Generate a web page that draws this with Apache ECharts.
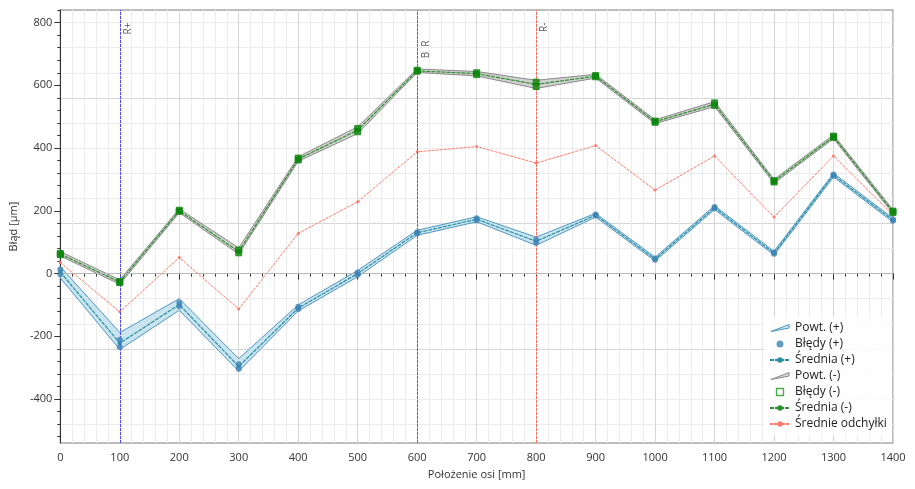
<!DOCTYPE html>
<html>
<head>
<meta charset="utf-8">
<script src="https://cdn.jsdelivr.net/npm/echarts@6/dist/echarts.min.js"></script>
<style>
  html, body { margin: 0; padding: 0; background: #fff; }
  #main { width: 915px; height: 489px; }
</style>
</head>
<body>
<div id="main"></div>
<script>
// pozycje pomiarowe [mm]
var xs = [0, 100, 200, 300, 400, 500, 600, 700, 800, 900, 1000, 1100, 1200, 1300, 1400];

// kierunek (+)
var plusRun1  = [13, -211, -93, -289, -106, 3, 132, 176, 108, 188, 48, 212, 67, 316, 172];
var plusRun2  = [-2, -234, -104, -303, -113, -4, 128, 170, 98, 185, 44, 208, 63, 312, 168];
var plusMean  = [5, -222, -99, -296, -110, 0, 130, 173, 103, 186, 46, 210, 65, 314, 170];
var plusUpper = [22, -188, -80, -271, -100, 10, 138, 181, 116, 192, 52, 216, 71, 320, 176];
var plusLower = [-14, -242, -117, -311, -119, -10, 122, 165, 90, 180, 40, 204, 59, 308, 164];

// kierunek (-)
var minusRun1  = [64, -25, 202, 75, 368, 462, 648, 640, 610, 631, 486, 544, 296, 438, 199];
var minusRun2  = [60, -29, 198, 66, 362, 452, 645, 634, 596, 627, 482, 536, 292, 434, 195];
var minusMean  = [62, -27, 200, 70, 365, 457, 646, 637, 603, 629, 484, 540, 294, 436, 197];
var minusUpper = [70, -20, 206, 82, 372, 468, 652, 644, 616, 635, 490, 548, 300, 442, 203];
var minusLower = [56, -34, 194, 62, 358, 446, 641, 630, 590, 623, 478, 532, 288, 430, 191];

// srednie odchylki
var avgDev = [35, -122, 51, -113, 128, 229, 388, 405, 352, 408, 266, 375, 180, 375, 186];

// znaczniki na osi
var markerX     = [100, 600, 800];
var markerText  = ['R+', 'B  R', 'R-'];
var markerColor = ['#4a4aff', '#2e8b6e', '#ff6b5e'];
var markerDrop  = [13, 31, 13];

var yLabels = [-400, -200, 0, 200, 400, 600, 800];
var yMinorTicks = [];
for (var v = -520; v <= 840; v += 40) yMinorTicks.push(v);

var Y_MIN = -540, Y_MAX = 840;

function pairs(ys) {
  return xs.map(function (x, i) { return [x, ys[i]]; });
}
function bandRows(up, lo) {
  return xs.map(function (x, i) { return [x, up[i], lo[i]]; });
}

// pasmo powtarzalnosci rysowane jako wielokat
function bandSeries(name, up, lo, fill, edge) {
  var rows = bandRows(up, lo);
  return {
    name: name, type: 'custom', z: 2, clip: true,
    encode: { x: 0, y: [1, 2] },
    data: rows,
    itemStyle: { color: fill, borderColor: edge, borderWidth: 1 },
    renderItem: function (params, api) {
      if (params.dataIndex !== 0) return;
      var top = [], bot = [];
      for (var i = 0; i < rows.length; i++) {
        top.push(api.coord([rows[i][0], rows[i][1]]));
        bot.push(api.coord([rows[i][0], rows[i][2]]));
      }
      var poly = top.concat(bot.slice().reverse());
      return {
        type: 'group',
        children: [
          { type: 'polygon', shape: { points: poly }, style: { fill: fill, stroke: null } },
          { type: 'polyline', shape: { points: top }, style: { stroke: edge, lineWidth: 1, fill: null } },
          { type: 'polyline', shape: { points: bot }, style: { stroke: edge, lineWidth: 1, fill: null } }
        ]
      };
    }
  };
}

var chart = echarts.init(document.getElementById('main'));

var minorC = '#ececec', majorC = '#d6d6d6', noneC = 'rgba(0,0,0,0)';
var font = '"Open Sans", "Noto Sans", sans-serif';
var wedge = 'path://M0,12L26,2L26,7L0,12Z';

var option = {
  backgroundColor: '#fff',
  animation: false,
  textStyle: { fontFamily: font },
  grid: {
    left: 54, right: 22, top: 10, bottom: 46,
    show: true, borderColor: '#a8a8a8', borderWidth: 1.5
  },
  legend: {
    orient: 'vertical',
    left: 764, top: 317,
    itemWidth: 20, itemHeight: 7, itemGap: 4,
    backgroundColor: 'rgba(255,255,255,0.85)',
    textStyle: { fontSize: 12, color: '#222', fontFamily: font },
    data: [
      { name: 'Powt. (+)', icon: wedge, itemStyle: { color: '#cfe6f0', borderColor: '#4f95c4', borderWidth: 1 } },
      { name: 'Błędy (+)' },
      { name: 'Średnia (+)' },
      { name: 'Powt. (-)', icon: wedge, itemStyle: { color: '#d6d6d6', borderColor: '#8a8a8a', borderWidth: 1 } },
      { name: 'Błędy (-)', icon: 'path://M0,0L10,0L10,10L0,10Z', itemStyle: { color: '#fff', borderColor: '#159a15', borderWidth: 1.3 } },
      { name: 'Średnia (-)' },
      { name: 'Średnie odchyłki' }
    ]
  },
  xAxis: {
    type: 'value',
    min: 0, max: 1400, interval: 100,
    name: 'Położenie osi [mm]',
    nameLocation: 'middle', nameGap: 26,
    nameTextStyle: { fontSize: 11, color: '#333' },
    axisLine: { lineStyle: { color: '#333' } },
    axisTick: { length: 6, lineStyle: { color: '#333' } },
    minorTick: { show: true, splitNumber: 5, length: 3, lineStyle: { color: '#333' } },
    axisLabel: { fontSize: 11, color: '#333', margin: 9, formatter: function (v) { return String(v); } },
    splitLine: { lineStyle: { color: majorC } },
    minorSplitLine: { show: true, lineStyle: { color: minorC } }
  },
  yAxis: [{
    type: 'value',
    min: Y_MIN, max: Y_MAX, interval: 20,
    name: 'Błąd [µm]',
    nameLocation: 'middle', nameGap: 36,
    nameTextStyle: { fontSize: 11, color: '#333' },
    axisLine: { show: true, lineStyle: { color: '#333' } },
    axisTick: { show: true, length: 3, customValues: yMinorTicks, lineStyle: { color: '#333' } },
    axisLabel: { fontSize: 11, color: '#333', customValues: yLabels, margin: 8 },
    splitLine: {
      lineStyle: {
        color: [noneC, minorC, noneC, minorC, noneC, minorC, noneC, majorC, noneC, minorC]
      }
    }
  }, {
    type: 'value',
    min: Y_MIN, max: Y_MAX, interval: 20,
    position: 'left',
    axisLine: { show: false },
    axisTick: { show: true, length: 6, customValues: yLabels, lineStyle: { color: '#333' } },
    axisLabel: { show: false },
    splitLine: { show: false }
  }],
  series: [
    bandSeries('Powt. (-)', minusUpper, minusLower, 'rgba(200,200,200,0.85)', '#8a8a8a'),
    bandSeries('Powt. (+)', plusUpper, plusLower, 'rgba(196,226,238,0.9)', '#4f95c4'),
    {
      name: 'Średnie odchyłki', type: 'line', data: pairs(avgDev), z: 3,
      symbol: 'circle', symbolSize: 3,
      itemStyle: { color: '#ff7b6b' },
      lineStyle: { color: '#ff7b6b', width: 1, type: [3, 1] },
      markLine: {
        silent: true, symbol: 'none', animation: false,
        label: { show: false },
        data: markerX.map(function (x, i) {
          return { xAxis: x, lineStyle: { color: markerColor[i], type: [3, 1], width: 1 } };
        }).concat([
          { yAxis: 0, lineStyle: { color: '#b8b8b8', type: 'solid', width: 1 } }
        ])
      }
    },
    {
      name: 'znaczniki', type: 'scatter', z: 6, silent: true,
      symbolSize: 1, itemStyle: { color: 'rgba(0,0,0,0)' },
      data: markerX.map(function (x, i) {
        return {
          value: [x, Y_MAX],
          label: {
            show: true, formatter: markerText[i], rotate: 90,
            position: [4, markerDrop[i]], align: 'right', verticalAlign: 'top',
            color: '#333', fontSize: 10
          }
        };
      })
    },
    {
      name: 'Średnia (-)', type: 'line', data: pairs(minusMean), z: 4,
      symbol: 'circle', symbolSize: 4,
      itemStyle: { color: '#2f8f2f' },
      lineStyle: { color: '#2f8f2f', width: 1.2, type: [4, 1] }
    },
    {
      name: 'Błędy (-)', type: 'scatter', data: pairs(minusRun1).concat(pairs(minusRun2)), z: 5,
      symbol: 'rect', symbolSize: 6,
      itemStyle: { color: '#0d870d', borderColor: '#0d870d' }
    },
    {
      name: 'Średnia (+)', type: 'line', data: pairs(plusMean), z: 4,
      symbol: 'circle', symbolSize: 4,
      itemStyle: { color: '#2a8fa0' },
      lineStyle: { color: '#2a8fa0', width: 1.2, type: [4, 1] }
    },
    {
      name: 'Błędy (+)', type: 'scatter', data: pairs(plusRun1).concat(pairs(plusRun2)), z: 5,
      symbol: 'circle', symbolSize: 6,
      itemStyle: { color: '#3d85b5' }
    }
  ]
};

chart.setOption(option);
</script>
</body>
</html>
